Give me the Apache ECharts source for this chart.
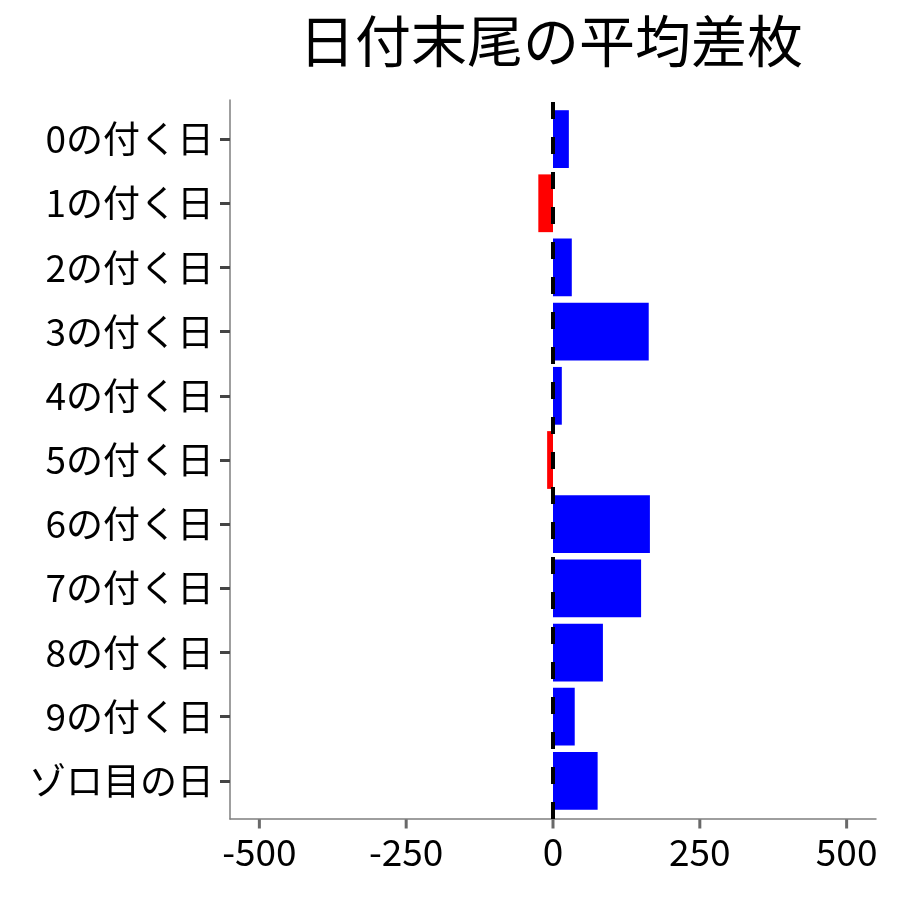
<!DOCTYPE html>
<html>
<head>
<meta charset="utf-8">
<script src="https://cdn.jsdelivr.net/npm/echarts@6/dist/echarts.min.js"></script>
<style>
  html, body { margin: 0; padding: 0; background: #fff; }
  #charts { width: 900px; height: 900px; }
</style>
</head>
<body>
<div id="charts"></div>
<script>
// data
var categories = ['0の付く日', '1の付く日', '2の付く日', '3の付く日', '4の付く日', '5の付く日',
                  '6の付く日', '7の付く日', '8の付く日', '9の付く日', 'ゾロ目の日'];
var values = [27, -25, 32, 163, 15, -10, 165, 150, 85, 37, 76];
var xTicks = [-500, -250, 0, 250, 500];
var xMin = -550, xMax = 550;       // panel range (ggplot expansion)

var font = '"Noto Sans CJK JP", "Noto Sans", sans-serif';
var myChart = echarts.init(document.getElementById('charts'), null, { width: 900, height: 900 });

var panelLeft = 230, panelRight = 24;
var pxPerUnit = (900 - panelLeft - panelRight) / (xMax - xMin);

var option = {
  animation: false,
  title: {
    text: '日付末尾の平均差枚',
    left: 546,
    top: 8,
    textAlign: 'center',
    textStyle: { fontFamily: font, fontSize: 56, fontWeight: 'normal', color: '#000' }
  },
  grid: [
    // bars, categories padded like ggplot (0.6 band each end)
    { left: panelLeft, right: panelRight, top: 107, bottom: 87 },
    // frame: axis lines
    { left: panelLeft, right: panelRight, top: 100, bottom: 81 },
    // x labels, first tick to last tick
    {
      left: panelLeft + (xTicks[0] - xMin) * pxPerUnit,
      right: panelRight + (xMax - xTicks[xTicks.length - 1]) * pxPerUnit,
      top: 100, bottom: 81
    }
  ],
  xAxis: [
    {
      gridIndex: 0, type: 'value', min: xMin, max: xMax,
      axisLine: { show: false }, axisTick: { show: false },
      axisLabel: { show: false }, splitLine: { show: false }
    },
    {
      gridIndex: 1, type: 'value', min: xMin, max: xMax,
      axisLine: { show: true, onZero: false, lineStyle: { color: '#7f7f7f', width: 1.5 } },
      axisTick: { show: false }, axisLabel: { show: false }, splitLine: { show: false }
    },
    {
      // evenly spaced tick values, so a point axis lands them on the value scale
      gridIndex: 2, type: 'category', boundaryGap: false,
      data: xTicks.map(String),
      axisLine: { show: false, onZero: false },
      axisTick: { show: false },
      axisLabel: { interval: 0, margin: 14, color: '#000', fontFamily: font, fontSize: 37 },
      splitLine: { show: false }
    }
  ],
  yAxis: [
    {
      gridIndex: 0, type: 'category', data: categories, inverse: true,
      axisLine: { show: false, onZero: false },
      axisTick: { show: true, alignWithLabel: true, length: 10, lineStyle: { color: '#444', width: 3 } },
      axisLabel: { margin: 16, color: '#000', fontFamily: font, fontSize: 37 },
      splitLine: { show: false }
    },
    {
      gridIndex: 1, type: 'value', min: 0, max: 1,
      axisLine: { show: true, onZero: false, lineStyle: { color: '#7f7f7f', width: 1.5 } },
      axisTick: { show: false }, axisLabel: { show: false }, splitLine: { show: false }
    },
    {
      gridIndex: 2, type: 'category', data: [''], show: false
    }
  ],
  series: [
    {
      type: 'bar',
      xAxisIndex: 0,
      yAxisIndex: 0,
      barCategoryGap: '10%',
      data: values.map(function (v) {
        return { value: v, itemStyle: { color: v < 0 ? '#ff0000' : '#0000ff' } };
      }),
      z: 2
    },
    {
      // zero reference line across the whole panel
      type: 'scatter',
      xAxisIndex: 1,
      yAxisIndex: 1,
      data: [],
      z: 3,
      markLine: {
        silent: true,
        symbol: 'none',
        label: { show: false },
        lineStyle: { color: '#000', type: [17, 18], width: 4 },
        data: [{ xAxis: 0 }]
      }
    },
    {
      // x tick marks hanging under the axis line
      type: 'scatter',
      xAxisIndex: 1,
      yAxisIndex: 1,
      clip: false,
      silent: true,
      symbol: 'rect',
      symbolSize: [3, 9],
      symbolOffset: [0, 5],
      itemStyle: { color: '#444' },
      data: xTicks.map(function (t) { return [t, 0]; }),
      z: 4
    },
    {
      type: 'scatter',
      xAxisIndex: 2,
      yAxisIndex: 2,
      data: []
    }
  ]
};

myChart.setOption(option);
</script>
</body>
</html>
